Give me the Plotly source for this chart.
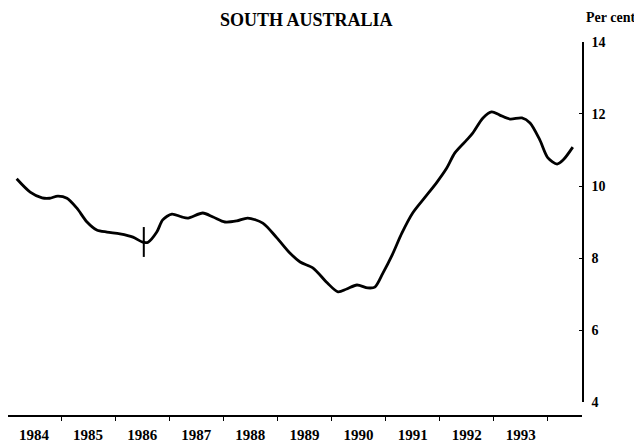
import plotly.graph_objects as go

# Data (decimal year, per cent)
years = [1983.68, 1983.93, 1984.15, 1984.29, 1984.44, 1984.61, 1984.79, 1984.98, 1985.16, 1985.35,
         1985.59, 1985.83, 1986.01, 1986.11, 1986.27, 1986.38, 1986.55, 1986.73, 1986.85, 1987.12,
         1987.31, 1987.53, 1987.75, 1987.95, 1988.23, 1988.49, 1988.73, 1988.92, 1989.16, 1989.42,
         1989.62, 1989.78, 1989.97, 1990.17, 1990.30, 1990.45, 1990.62, 1990.80, 1991.00, 1991.23,
         1991.45, 1991.63, 1991.78, 1992.00, 1992.11, 1992.30, 1992.46, 1992.61, 1992.80, 1993.02,
         1993.17, 1993.35, 1993.50, 1993.67, 1993.78, 1993.96]
values = [10.20, 9.83, 9.67, 9.66, 9.72, 9.66, 9.39, 9.00, 8.78, 8.72,
          8.67, 8.58, 8.44, 8.44, 8.72, 9.06, 9.22, 9.14, 9.11, 9.25,
          9.14, 9.00, 9.03, 9.11, 8.97, 8.56, 8.14, 7.89, 7.72, 7.31,
          7.06, 7.14, 7.25, 7.17, 7.19, 7.58, 8.08, 8.69, 9.25, 9.69,
          10.11, 10.50, 10.92, 11.28, 11.47, 11.89, 12.06, 11.97, 11.86, 11.89,
          11.75, 11.28, 10.78, 10.61, 10.72, 11.08]

# Series-break marker
break_year = [1986.03, 1986.03]
break_vals = [8.86, 8.03]

year_labels = [1984, 1985, 1986, 1987, 1988, 1989, 1990, 1991, 1992, 1993]
y_ticks = [4, 6, 8, 10, 12, 14]

FONT = "Liberation Serif"

fig = go.Figure()
fig.add_trace(go.Scatter(x=years, y=values, mode="lines",
                         line=dict(color="black", width=2.8, shape="spline", smoothing=0.8),
                         showlegend=False, hoverinfo="skip"))
fig.add_trace(go.Scatter(x=break_year, y=break_vals, mode="lines",
                         line=dict(color="black", width=2),
                         showlegend=False, hoverinfo="skip"))

# The page body adds an 8px offset, so the figure is sized to the visible area
fig.update_layout(
    width=634, height=436,
    margin=dict(l=0, r=60, t=32, b=28, autoexpand=False),
    paper_bgcolor="white", plot_bgcolor="white",
    font=dict(family=FONT, color="black", size=14),
    xaxis=dict(range=[1983.52, 1994.13], tickvals=year_labels,
               ticktext=[str(y) for y in year_labels],
               ticks="", showgrid=False, zeroline=False, automargin=False,
               showline=True, linecolor="black", linewidth=1.5,
               anchor="free", position=0, ticklabelstandoff=5,
               tickfont=dict(family=FONT, size=15, weight="bold"),
               minor=dict(ticks="outside", tick0=1983.5, dtick=1, ticklen=4,
                          tickcolor="black", showgrid=False)),
    yaxis=dict(range=[4, 14], domain=[0.0372, 0.9947], side="right",
               tickvals=y_ticks, ticks="inside", ticklen=3, tickcolor="black",
               showgrid=False, zeroline=False, showline=True, automargin=False,
               linecolor="black", linewidth=1.5, ticklabelstandoff=5,
               tickfont=dict(family=FONT, size=14, weight="bold")),
    annotations=[
        dict(text="SOUTH AUSTRALIA", xref="paper", yref="paper", x=0.52, y=1.085,
             xanchor="center", yanchor="top", showarrow=False,
             font=dict(family=FONT, size=18, weight="bold")),
        dict(text="Per cent", xref="paper", yref="paper", x=1.049, y=1.061,
             xanchor="center", yanchor="middle", showarrow=False,
             font=dict(family=FONT, size=14, weight="bold")),
    ],
)

fig.write_html("out.html")
